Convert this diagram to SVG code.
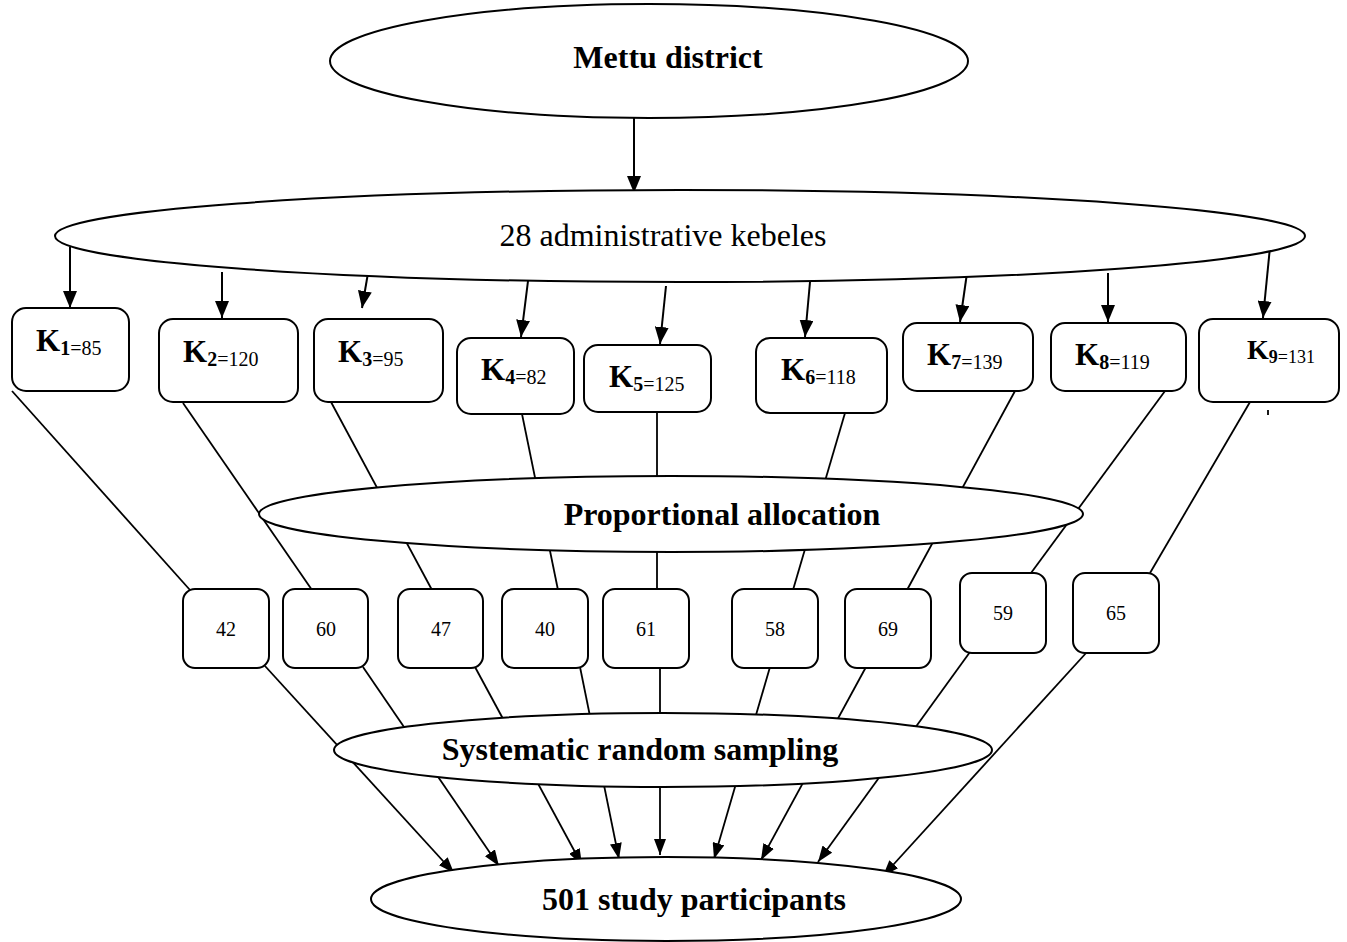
<svg xmlns="http://www.w3.org/2000/svg" width="1347" height="942" viewBox="0 0 1347 942">
<defs>
<style>
.el{fill:#fff;stroke:#000;stroke-width:2}
.bx{fill:#fff;stroke:#000;stroke-width:2}
.ln{fill:none;stroke:#000;stroke-width:1.8}
.ar{fill:none;stroke:#000;stroke-width:2;marker-end:url(#ah)}
.ar2{fill:none;stroke:#000;stroke-width:1.8;marker-end:url(#ah2)}
text{font-family:"Liberation Serif","Times New Roman",serif;fill:#000}
.big{font-size:32px;font-weight:bold;text-anchor:middle}
.reg{font-size:32px;text-anchor:middle}
.k{font-size:31px;font-weight:bold}
.ks{font-size:20px;font-weight:bold}
.kv{font-size:20px;font-weight:normal}
.num{font-size:20px;text-anchor:middle}
</style>
<marker id="ah" viewBox="0 0 17 14" refX="17" refY="7" markerWidth="17" markerHeight="14" markerUnits="userSpaceOnUse" orient="auto"><path d="M0,0 L17,7 L0,14 z" fill="#000"/></marker>
<marker id="ah2" viewBox="0 0 16 12" refX="16" refY="6" markerWidth="16" markerHeight="12" markerUnits="userSpaceOnUse" orient="auto"><path d="M0,0 L16,6 L0,12 z" fill="#000"/></marker>
</defs>
<rect width="1347" height="942" fill="#fff"/>
<g id="connectors">
<line class="ar" x1="634" y1="118" x2="634" y2="193"/>
<line class="ar" x1="70" y1="247" x2="70" y2="308"/>
<line class="ar" x1="222" y1="272" x2="222" y2="318"/>
<line class="ar" x1="368" y1="273" x2="362" y2="308"/>
<line class="ar" x1="528" y1="281" x2="521" y2="337"/>
<line class="ar" x1="666" y1="286" x2="660" y2="344"/>
<line class="ar" x1="810" y1="282" x2="805" y2="337"/>
<line class="ar" x1="967" y1="273" x2="960" y2="322"/>
<line class="ar" x1="1108" y1="273" x2="1108" y2="322"/>
<line class="ar" x1="1270" y1="247" x2="1263" y2="318"/>
<line class="ln" x1="12" y1="391" x2="190" y2="590"/>
<line class="ln" x1="183" y1="403" x2="312" y2="590"/>
<line class="ln" x1="331" y1="402" x2="432" y2="590"/>
<line class="ln" x1="522" y1="414" x2="558" y2="590"/>
<line class="ln" x1="657" y1="412" x2="657" y2="590"/>
<line class="ln" x1="845" y1="413" x2="793" y2="590"/>
<line class="ln" x1="1015" y1="391" x2="907" y2="590"/>
<line class="ln" x1="1165" y1="391" x2="1031" y2="573"/>
<line class="ln" x1="1250" y1="402" x2="1150" y2="573"/>
<line class="ar2" x1="265" y1="666" x2="454" y2="873"/>
<line class="ar2" x1="363" y1="667" x2="499" y2="866"/>
<line class="ar2" x1="475" y1="667" x2="582" y2="865"/>
<line class="ar2" x1="580" y1="667" x2="619" y2="859"/>
<line class="ar2" x1="660" y1="667" x2="660" y2="855"/>
<line class="ar2" x1="770" y1="667" x2="714" y2="859"/>
<line class="ar2" x1="866" y1="667" x2="761" y2="860"/>
<line class="ar2" x1="970" y1="652" x2="818" y2="862"/>
<line class="ar2" x1="1087" y1="652" x2="883" y2="876"/>
<line class="ln" x1="1268" y1="410" x2="1268" y2="415"/>
</g>
<g id="mettu">
<ellipse class="el" cx="649" cy="61" rx="319" ry="57"/>
<text class="big" x="668" y="68">Mettu district</text>
</g>
<g id="kebeles">
<ellipse class="el" cx="680" cy="236" rx="625" ry="46"/>
<text class="reg" x="663" y="246">28 administrative kebeles</text>
</g>
<g id="k1"><rect class="bx" x="12" y="308" width="117" height="83" rx="14"/><text x="36" y="351"><tspan class="k">K</tspan><tspan class="ks" dy="4">1</tspan><tspan class="kv">=85</tspan></text></g>
<g id="k2"><rect class="bx" x="159" y="319" width="139" height="83" rx="14"/><text x="183" y="362"><tspan class="k">K</tspan><tspan class="ks" dy="4">2</tspan><tspan class="kv">=120</tspan></text></g>
<g id="k3"><rect class="bx" x="314" y="319" width="129" height="83" rx="14"/><text x="338" y="362"><tspan class="k">K</tspan><tspan class="ks" dy="4">3</tspan><tspan class="kv">=95</tspan></text></g>
<g id="k4"><rect class="bx" x="457" y="338" width="117" height="76" rx="14"/><text x="481" y="380"><tspan class="k">K</tspan><tspan class="ks" dy="4">4</tspan><tspan class="kv">=82</tspan></text></g>
<g id="k5"><rect class="bx" x="584" y="345" width="127" height="67" rx="14"/><text x="609" y="387"><tspan class="k">K</tspan><tspan class="ks" dy="4">5</tspan><tspan class="kv">=125</tspan></text></g>
<g id="k6"><rect class="bx" x="756" y="338" width="131" height="75" rx="14"/><text x="781" y="380"><tspan class="k">K</tspan><tspan class="ks" dy="4">6</tspan><tspan class="kv">=118</tspan></text></g>
<g id="k7"><rect class="bx" x="903" y="323" width="130" height="68" rx="14"/><text x="927" y="365"><tspan class="k">K</tspan><tspan class="ks" dy="4">7</tspan><tspan class="kv">=139</tspan></text></g>
<g id="k8"><rect class="bx" x="1051" y="323" width="135" height="68" rx="14"/><text x="1075" y="365"><tspan class="k">K</tspan><tspan class="ks" dy="4">8</tspan><tspan class="kv">=119</tspan></text></g>
<g id="k9"><rect class="bx" x="1199" y="319" width="140" height="83" rx="14"/><text x="1247" y="359"><tspan class="k" style="font-size:28px">K</tspan><tspan class="ks" dy="4" style="font-size:18px">9</tspan><tspan class="kv" style="font-size:18px">=131</tspan></text></g>
<g id="proportional">
<ellipse class="el" cx="671" cy="514" rx="412" ry="38"/>
<text class="big" x="722" y="525">Proportional allocation</text>
</g>
<g id="n42"><rect class="bx" x="183" y="589" width="86" height="79" rx="12"/><text class="num" x="226" y="636">42</text></g>
<g id="n60"><rect class="bx" x="283" y="589" width="85" height="79" rx="12"/><text class="num" x="326" y="636">60</text></g>
<g id="n47"><rect class="bx" x="398" y="589" width="85" height="79" rx="12"/><text class="num" x="441" y="636">47</text></g>
<g id="n40"><rect class="bx" x="502" y="589" width="86" height="79" rx="12"/><text class="num" x="545" y="636">40</text></g>
<g id="n61"><rect class="bx" x="603" y="589" width="86" height="79" rx="12"/><text class="num" x="646" y="636">61</text></g>
<g id="n58"><rect class="bx" x="732" y="589" width="86" height="79" rx="12"/><text class="num" x="775" y="636">58</text></g>
<g id="n69"><rect class="bx" x="845" y="589" width="86" height="79" rx="12"/><text class="num" x="888" y="636">69</text></g>
<g id="n59"><rect class="bx" x="960" y="573" width="86" height="80" rx="12"/><text class="num" x="1003" y="620">59</text></g>
<g id="n65"><rect class="bx" x="1073" y="573" width="86" height="80" rx="12"/><text class="num" x="1116" y="620">65</text></g>
<g id="systematic">
<ellipse class="el" cx="663" cy="750" rx="329" ry="37"/>
<text class="big" x="640" y="760">Systematic random sampling</text>
</g>
<g id="participants">
<ellipse class="el" cx="666" cy="899" rx="295" ry="42"/>
<text class="big" x="694" y="910">501 study participants</text>
</g>
</svg>
